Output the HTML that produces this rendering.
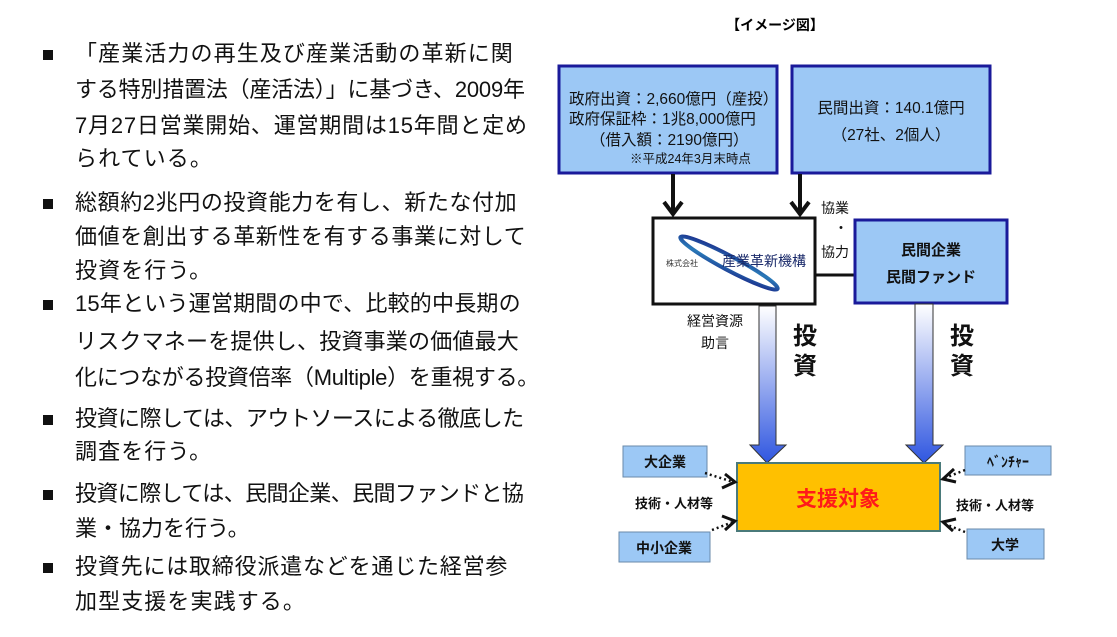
<!DOCTYPE html>
<html><head><meta charset="utf-8"><style>
body{margin:0;width:1117px;height:637px;background:#fff;overflow:hidden;position:relative;font-family:"Liberation Sans","Noto Sans CJK JP",sans-serif;}
.l{position:absolute;left:75px;font-size:22px;letter-spacing:1.1px;color:#111;white-space:nowrap;line-height:30px;}
.b{position:absolute;left:43px;width:10px;height:10px;background:#111;}
</style></head><body>
<div class="b" style="top:50px"></div>
<div class="l" style="top:39px">「産業活力の再生及び産業活動の革新に関</div>
<div class="l" style="top:75px;letter-spacing:-0.2px">する特別措置法（産活法）」に基づき、2009年</div>
<div class="l" style="top:111px;letter-spacing:0.8px">7月27日営業開始、運営期間は15年間と定め</div>
<div class="l" style="top:144px">られている。</div>
<div class="b" style="top:199px"></div>
<div class="l" style="top:188px;letter-spacing:0.6px">総額約2兆円の投資能力を有し、新たな付加</div>
<div class="l" style="top:222px;letter-spacing:0.6px">価値を創出する革新性を有する事業に対して</div>
<div class="l" style="top:256px">投資を行う。</div>
<div class="b" style="top:300px"></div>
<div class="l" style="top:289px;letter-spacing:0.2px">15年という運営期間の中で、比較的中長期の</div>
<div class="l" style="top:327px;letter-spacing:0.2px">リスクマネーを提供し、投資事業の価値最大</div>
<div class="l" style="top:363px;letter-spacing:-0.3px">化につながる投資倍率（Multiple）を重視する。</div>
<div class="b" style="top:415px"></div>
<div class="l" style="top:404px;letter-spacing:-0.5px">投資に際しては、アウトソースによる徹底した</div>
<div class="l" style="top:437px">調査を行う。</div>
<div class="b" style="top:490px"></div>
<div class="l" style="top:479px;letter-spacing:-0.6px">投資に際しては、民間企業、民間ファンドと協</div>
<div class="l" style="top:514px;letter-spacing:0px">業・協力を行う。</div>
<div class="b" style="top:563px"></div>
<div class="l" style="top:552px;letter-spacing:0.8px">投資先には取締役派遣などを通じた経営参</div>
<div class="l" style="top:587px">加型支援を実践する。</div>

<svg width="1117" height="637" style="position:absolute;left:0;top:0" font-family="Liberation Sans, Noto Sans CJK JP, sans-serif">
<defs>
<linearGradient id="g" x1="0" y1="0" x2="0" y2="1">
<stop offset="0" stop-color="#ffffff"/><stop offset="1" stop-color="#2f56e0"/>
</linearGradient>
<linearGradient id="g2" x1="0" y1="0" x2="1" y2="1">
<stop offset="0" stop-color="#1a2a8a"/><stop offset="0.5" stop-color="#2a7ab8"/><stop offset="1" stop-color="#1a2a8a"/>
</linearGradient>
</defs>
<text x="775" y="30" font-size="14" font-weight="bold" text-anchor="middle">【イメージ図】</text>
<rect x="559" y="66" width="218" height="107" fill="#9cc8f5" stroke="#1a1a9a" stroke-width="3"/>
<text font-size="15.5" fill="#111"><tspan x="569" y="104">政府出資：2,660億円（産投）</tspan><tspan x="569" y="124">政府保証枠：1兆8,000億円</tspan><tspan x="590" y="145">（借入額：2190億円）</tspan></text>
<text x="630" y="163" font-size="12.5" fill="#111">※平成24年3月末時点</text>
<rect x="792" y="66" width="198" height="107" fill="#9cc8f5" stroke="#1a1a9a" stroke-width="3"/>
<text font-size="15.5" fill="#111" text-anchor="middle"><tspan x="891" y="113">民間出資：140.1億円</tspan><tspan x="891" y="140">（27社、2個人）</tspan></text>
<g stroke="#111" stroke-width="4" fill="none">
<line x1="673" y1="174" x2="673" y2="214"/><polyline points="664,202 673,214 682,202"/>
<line x1="800" y1="174" x2="800" y2="214"/><polyline points="791,202 800,214 809,202"/>
</g>
<rect x="653" y="218" width="162" height="86" fill="#fff" stroke="#111" stroke-width="3"/>
<ellipse cx="729" cy="263" rx="55" ry="7" transform="rotate(28 729 263)" fill="none" stroke="url(#g2)" stroke-width="4"/>
<text x="666" y="266" font-size="8" fill="#333">株式会社</text>
<text x="722" y="266" font-size="14" fill="#1a2a6a">産業革新機構</text>
<line x1="815" y1="275" x2="855" y2="275" stroke="#111" stroke-width="3"/>
<text font-size="14" fill="#111"><tspan x="821" y="213">協業</tspan><tspan x="834" y="233">・</tspan><tspan x="821" y="257">協力</tspan></text>
<rect x="855" y="220" width="152" height="83" fill="#9cc8f5" stroke="#1a1a9a" stroke-width="3"/>
<text font-size="15" font-weight="bold" fill="#111" text-anchor="middle"><tspan x="931" y="255">民間企業</tspan><tspan x="931" y="282">民間ファンド</tspan></text>
<path d="M759,306 H776 V445 H786 L767,463 L750,445 H759 Z" fill="url(#g)" stroke="#333" stroke-width="1"/>
<path d="M915,304 H933 V445 H943 L924,463 L906,445 H915 Z" fill="url(#g)" stroke="#333" stroke-width="1"/>
<text font-size="14" fill="#111" text-anchor="middle"><tspan x="715" y="326">経営資源</tspan><tspan x="715" y="348">助言</tspan></text>
<text font-size="24" font-weight="bold" fill="#111"><tspan x="793" y="344">投</tspan><tspan x="793" y="374">資</tspan></text>
<text font-size="24" font-weight="bold" fill="#111"><tspan x="950" y="344">投</tspan><tspan x="950" y="374">資</tspan></text>
<rect x="737" y="463" width="203" height="68" fill="#ffc000" stroke="#4a7a7a" stroke-width="2"/>
<text x="838" y="506" font-size="21" font-weight="bold" fill="#ff1a1a" text-anchor="middle">支援対象</text>
<g fill="#9cc8f5" stroke="#6a8aaa" stroke-width="1">
<rect x="623" y="446" width="84" height="31"/>
<rect x="619" y="532" width="91" height="30"/>
<rect x="965" y="446" width="86" height="29"/>
<rect x="967" y="529" width="77" height="30"/>
</g>
<g font-size="14" font-weight="bold" fill="#111" text-anchor="middle">
<text x="665" y="467">大企業</text>
<text x="664" y="553">中小企業</text>
<text x="1008" y="467">ﾍﾞﾝﾁｬｰ</text>
<text x="1005" y="550">大学</text>
<text x="674" y="508" font-size="13">技術・人材等</text>
<text x="995" y="510" font-size="13">技術・人材等</text>
</g>
<g stroke="#111" stroke-width="2.5" fill="none" stroke-dasharray="2,3">
<line x1="705" y1="473" x2="733" y2="482"/>
<line x1="712" y1="530" x2="733" y2="522"/>
<line x1="965" y1="470" x2="945" y2="478"/>
<line x1="965" y1="532" x2="945" y2="524"/>
</g>
<g stroke="#111" stroke-width="3" fill="none">
<polyline points="725,474 735,482 722,488"/>
<polyline points="722,516 735,521 725,530"/>
<polyline points="954,469 943,479 956,482"/>
<polyline points="956,519 943,522 953,531"/>
</g>
</svg>
</body></html>
